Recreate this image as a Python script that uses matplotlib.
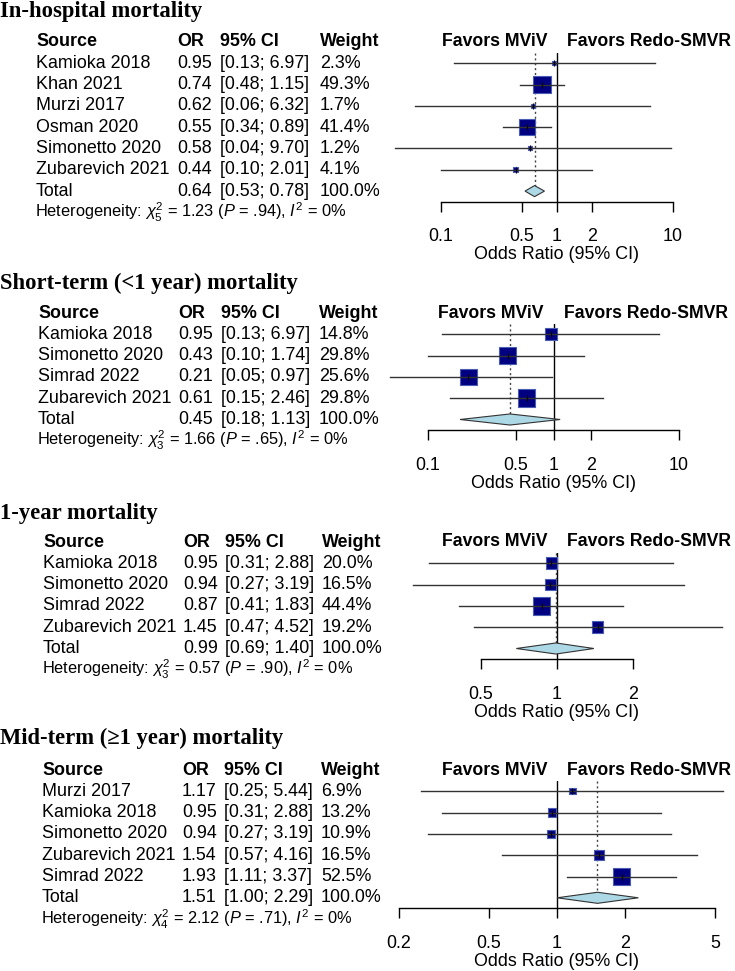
import numpy as np
import matplotlib
matplotlib.use("Agg")
import matplotlib.pyplot as plt

# ---- data ----
ih_study = ["Kamioka 2018", "Khan 2021", "Murzi 2017", "Osman 2020", "Simonetto 2020", "Zubarevich 2021"]
ih_or = [0.95, 0.74, 0.62, 0.55, 0.58, 0.44]
ih_lo = [0.13, 0.48, 0.06, 0.34, 0.04, 0.10]
ih_hi = [6.97, 1.15, 6.32, 0.89, 9.70, 2.01]
ih_w = [2.3, 49.3, 1.7, 41.4, 1.2, 4.1]
ih_total = [0.64, 0.53, 0.78]
ih_het = ["5", "1.23", ".94", "0%"]
ih_ticks = [0.1, 0.5, 1, 2, 10]

st_study = ["Kamioka 2018", "Simonetto 2020", "Simrad 2022", "Zubarevich 2021"]
st_or = [0.95, 0.43, 0.21, 0.61]
st_lo = [0.13, 0.10, 0.05, 0.15]
st_hi = [6.97, 1.74, 0.97, 2.46]
st_w = [14.8, 29.8, 25.6, 29.8]
st_total = [0.45, 0.18, 1.13]
st_het = ["3", "1.66", ".65", "0%"]
st_ticks = [0.1, 0.5, 1, 2, 10]

oy_study = ["Kamioka 2018", "Simonetto 2020", "Simrad 2022", "Zubarevich 2021"]
oy_or = [0.95, 0.94, 0.87, 1.45]
oy_lo = [0.31, 0.27, 0.41, 0.47]
oy_hi = [2.88, 3.19, 1.83, 4.52]
oy_w = [20.0, 16.5, 44.4, 19.2]
oy_total = [0.99, 0.69, 1.40]
oy_het = ["3", "0.57", ".90", "0%"]
oy_ticks = [0.5, 1, 2]

mt_study = ["Murzi 2017", "Kamioka 2018", "Simonetto 2020", "Zubarevich 2021", "Simrad 2022"]
mt_or = [1.17, 0.95, 0.94, 1.54, 1.93]
mt_lo = [0.25, 0.31, 0.27, 0.57, 1.11]
mt_hi = [5.44, 2.88, 3.19, 4.16, 3.37]
mt_w = [6.9, 13.2, 10.9, 16.5, 52.5]
mt_total = [1.51, 1.00, 2.29]
mt_het = ["4", "2.12", ".71", "0%"]
mt_ticks = [0.2, 0.5, 1, 2, 5]

titles = ["In-hospital mortality", "Short-term (<1 year) mortality",
          "1-year mortality", "Mid-term (\u22651 year) mortality"]

W, H = 735, 971
ROW = 21.3
SANS = "Liberation Sans"
SERIF = "Liberation Serif"
FS = 12.9

plt.rcParams["font.family"] = SANS
plt.rcParams["mathtext.fontset"] = "custom"
plt.rcParams["mathtext.rm"] = SANS
plt.rcParams["mathtext.it"] = SANS + ":italic"
plt.rcParams["mathtext.bf"] = SANS + ":bold"


def fx(x):
    return x / W


def fy(y):
    return 1 - y / H


def draw_section(fig, title, study, orv, lo, hi, w, total, het, ticks,
                 title_y, head_y, cols, axis_px):
    n = len(study)
    fig.text(0, fy(title_y), title, family=SERIF, weight="bold",
             fontsize=16.3, va="center", ha="left")

    # table
    heads = ["Source", "OR", "95% CI", "Weight"]
    for c, h in zip(cols, heads):
        fig.text(fx(c), fy(head_y), h, weight="bold", fontsize=FS, va="center")
    rows = [(s, o, l, u, "%.1f%%" % ww) for s, o, l, u, ww in zip(study, orv, lo, hi, w)]
    rows.append(("Total", total[0], total[1], total[2], "100.0%"))
    for i, (s, o, l, u, ws) in enumerate(rows):
        y = fy(head_y + (i + 1) * ROW)
        fig.text(fx(cols[0]), y, s, fontsize=FS, va="center")
        fig.text(fx(cols[1]), y, "%.2f" % o, fontsize=FS, va="center")
        fig.text(fx(cols[2]), y, "[%.2f; %.2f]" % (l, u), fontsize=FS, va="center")
        fig.text(fx(cols[3]), y, ws, fontsize=FS, va="center")
    het_txt = ("Heterogeneity: $\\chi^2_{%s}$ = %s ($P$ = %s), $I^2$ = %s"
               % (het[0], het[1], het[2], het[3]))
    fig.text(fx(cols[0] - 1), fy(head_y + (n + 2) * ROW), het_txt,
             fontsize=11.8, va="center")

    # forest axes: from first tick to last tick, row 0.5 to row n+1.5
    top = head_y + 0.5 * ROW
    bot = head_y + (n + 1.5) * ROW
    ax = fig.add_axes([fx(axis_px[0]), fy(bot), fx(axis_px[1] - axis_px[0]),
                       (bot - top) / H])
    ax.set_xscale("log")
    ax.set_xlim(ticks[0], ticks[-1])
    ax.set_ylim(n + 1.5, 0.5)
    for sp in ["left", "right", "top"]:
        ax.spines[sp].set_visible(False)
    ax.spines["bottom"].set_linewidth(1)
    ax.set_yticks([])
    ax.set_xticks(ticks)
    ax.set_xticklabels(["%g" % t for t in ticks])
    ax.minorticks_off()
    ax.tick_params(axis="x", direction="out", length=7.2, width=1,
                   labelsize=FS, pad=12)
    ax.set_xlabel("Odds Ratio (95% CI)", fontsize=FS, labelpad=0.5)

    ys = np.arange(1, n + 1)
    ax.axvline(1, color="black", lw=1)
    ax.plot([total[0], total[0]], [0.5, n + 1 - 0.26], color="#444444",
            lw=1, ls=(0, (1.5, 2)))

    wmax = max(w)
    side = np.maximum(17.5 * np.sqrt(np.array(w) / wmax), 4) * 0.72
    ax.scatter(orv, ys, s=side ** 2, marker="s", facecolor="#000080",
               edgecolor="#4a5db5", linewidth=0.8, zorder=3, clip_on=False)
    for o, l, u, y in zip(orv, lo, hi, ys):
        ax.plot([l, u], [y, y], color="#333333", lw=1, zorder=4, clip_on=False)
    ax.plot(orv, ys, ls="none", marker="|", ms=5, mew=0.8, color="black",
            zorder=5, clip_on=False)

    d = 0.26
    ax.fill([total[1], total[0], total[2], total[0]],
            [n + 1, n + 1 - d, n + 1, n + 1 + d],
            facecolor="#add8e6", edgecolor="#333333", lw=0.8, zorder=3,
            clip_on=False)

    ax.annotate("Favors MViV", xy=(1, 0), xytext=(-7, 0),
                textcoords="offset points", ha="right", va="center",
                weight="bold", fontsize=12.7, annotation_clip=False)
    ax.annotate("Favors Redo-SMVR", xy=(1, 0), xytext=(7.5, 0),
                textcoords="offset points", ha="left", va="center",
                weight="bold", fontsize=12.7, annotation_clip=False)
    return ax


def main():
    fig = plt.figure(figsize=(W / 100, H / 100), dpi=100)
    draw_section(fig, titles[0], ih_study, ih_or, ih_lo, ih_hi, ih_w, ih_total,
                 ih_het, ih_ticks, 12, 42, (36, 177, 220, 320), (441, 673))
    draw_section(fig, titles[1], st_study, st_or, st_lo, st_hi, st_w, st_total,
                 st_het, st_ticks, 283, 313, (38, 178, 221, 319), (428, 679))
    draw_section(fig, titles[2], oy_study, oy_or, oy_lo, oy_hi, oy_w, oy_total,
                 oy_het, oy_ticks, 513, 542, (43, 183, 225, 322), (481, 633))
    draw_section(fig, titles[3], mt_study, mt_or, mt_lo, mt_hi, mt_w, mt_total,
                 mt_het, mt_ticks, 738, 770, (42, 182, 224, 321), (399, 715))
    fig.savefig("out.png", dpi=100)


if __name__ == "__main__":
    main()
